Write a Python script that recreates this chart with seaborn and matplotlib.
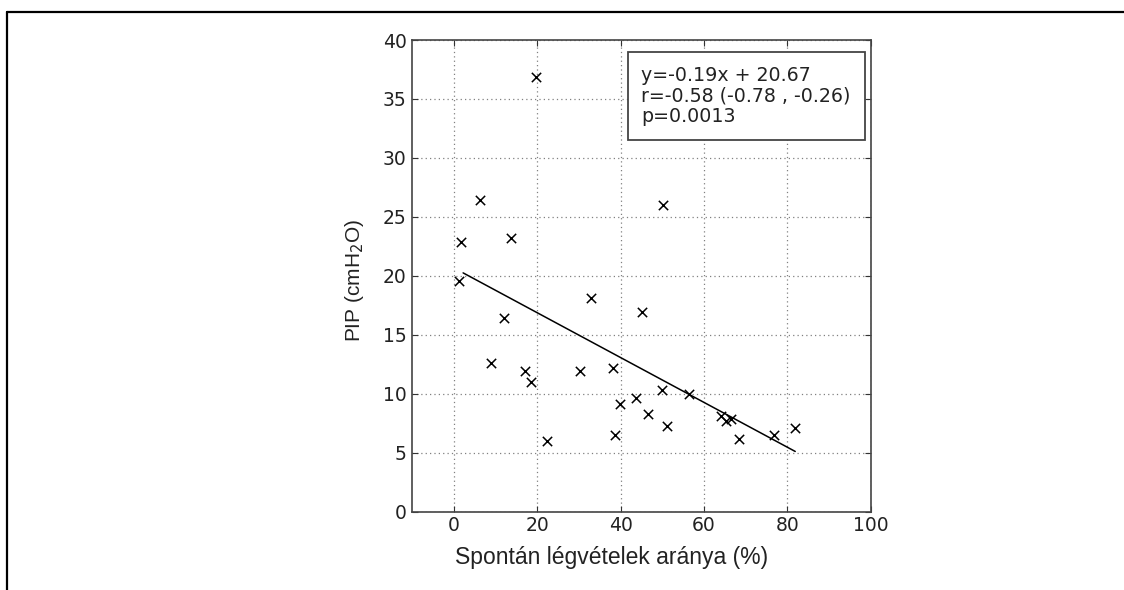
import numpy as np
import pandas as pd
import matplotlib
matplotlib.use("Agg")
import matplotlib.pyplot as plt
from matplotlib.lines import Line2D
import seaborn as sns

# Spontaneous breath ratio (%) and peak inspiratory pressure (cmH2O)
spont_ratio = [1.2, 1.6, 6.2, 9.0, 12.0, 13.8, 17.0, 18.6, 19.8, 22.3,
               30.3, 32.9, 38.2, 38.6, 39.8, 43.8, 45.1, 46.6, 50.0, 50.2,
               51.1, 56.5, 64.0, 65.4, 66.4, 68.4, 76.8, 81.9]
pip_values = [19.6, 22.9, 26.4, 12.6, 16.4, 23.2, 11.9, 11.0, 36.9, 6.0,
              11.9, 18.1, 12.2, 6.5, 9.1, 9.6, 16.9, 8.3, 10.3, 26.0,
              7.3, 10.0, 8.1, 7.7, 7.9, 6.2, 6.5, 7.1]

# Linear fit reported in the annotation
fit_slope = -0.19
fit_intercept = 20.67
fit_text = "y=-0.19x + 20.67\nr=-0.58 (-0.78 , -0.26)\np=0.0013"

x_ticks = [0, 20, 40, 60, 80, 100]
y_ticks = [0, 5, 10, 15, 20, 25, 30, 35, 40]

df = pd.DataFrame({"ratio": spont_ratio, "pip": pip_values})
x_fit = np.array([min(spont_ratio) + 1.0, max(spont_ratio)])
fit_df = pd.DataFrame({"ratio": x_fit, "pip": fit_slope * x_fit + fit_intercept})

sns.set_style("white")
plt.rcParams["font.family"] = ["DejaVu Sans"]

fig = plt.figure(figsize=(11.24, 5.90), dpi=100)
ax = fig.add_axes([0.3668, 0.1327, 0.4078, 0.7995])

sns.scatterplot(data=df, x="ratio", y="pip", marker="x", color="black",
                s=45, linewidth=1.1, ax=ax, zorder=3)
sns.lineplot(data=fit_df, x="ratio", y="pip", color="black", linewidth=1.1,
             ax=ax, zorder=2)

ax.set_xlim(-10, 100)
ax.set_ylim(0, 40)
ax.set_xticks(x_ticks)
ax.set_yticks(y_ticks)
ax.grid(True, linestyle=(0, (1, 2.5)), color="#808080", linewidth=0.9)
ax.tick_params(direction="in", length=4, width=0.8, colors="#333333",
               labelsize=13.5, labelcolor="#222222", top=True, right=True,
               bottom=True, left=True)
ax.tick_params(axis="x", pad=3)
ax.tick_params(axis="y", pad=4)
for sp in ax.spines.values():
    sp.set_visible(True)
    sp.set_color("#444444")
    sp.set_linewidth(1.2)

ax.set_xlabel("Spontán légvételek aránya (%)", fontsize=16.5,
              family="Liberation Sans", color="#222222")
ax.xaxis.set_label_coords(0.4355, -0.072, transform=ax.transAxes)
ax.xaxis.label.set_va("top")
ax.set_ylabel("PIP (cmH$_2$O)", fontsize=15, family="Liberation Sans",
              color="#222222")
ax.yaxis.set_label_coords(-0.1, 0.49, transform=ax.transAxes)

ax.text(0.5, 0.8815, fit_text, transform=ax.transAxes, fontsize=13.7,
        color="#222222", va="center", ha="left", linespacing=1.1,
        bbox=dict(boxstyle="square,pad=0.72", facecolor="white",
                  edgecolor="#444444", linewidth=1.3))

# Outer frame lines along the top and left of the figure
fig.add_artist(Line2D([0.0058, 1.0], [0.9805, 0.9805], transform=fig.transFigure,
                      color="black", linewidth=1.6))
fig.add_artist(Line2D([0.0058, 0.0058], [0.0, 0.9805], transform=fig.transFigure,
                      color="black", linewidth=1.6))

fig.savefig("out.png", dpi=100, facecolor="white")
